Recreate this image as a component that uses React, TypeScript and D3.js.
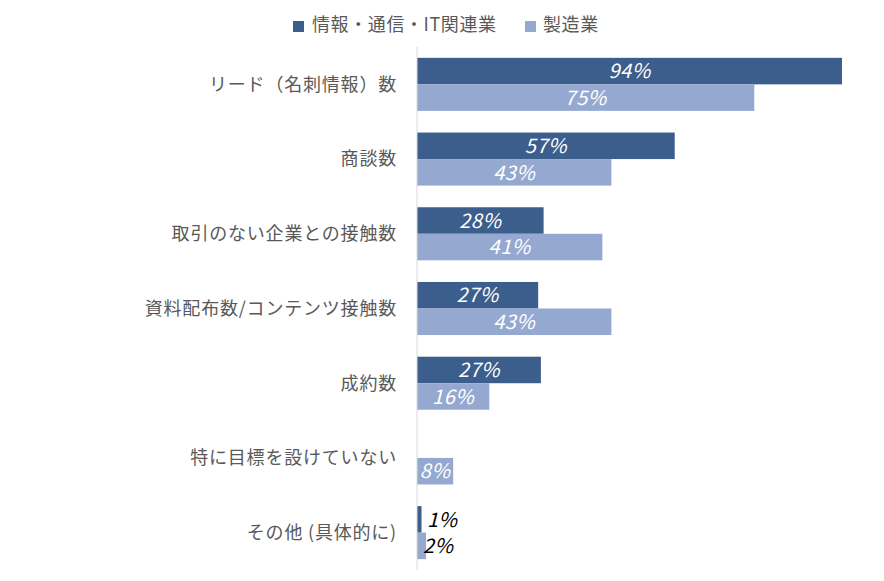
// Grouped horizontal bar chart with d3 scales.

import * as d3 from "d3";

const categories = [
  "リード（名刺情報）数",
  "商談数",
  "取引のない企業との接触数",
  "資料配布数/コンテンツ接触数",
  "成約数",
  "特に目標を設けていない",
  "その他 (具体的に)",
];
const seriesNames = ["情報・通信・IT関連業", "製造業"];
const itValues = [94, 57, 28, 26.8, 27.4, 0, 1];
const mfgValues = [74.6, 43, 41, 43, 16, 8, 2];
const colors = ["#3b5e8c", "#95a9d0"];

const font = "'Noto Sans CJK JP', 'Noto Sans', sans-serif";

export default function App() {
  const width = 884;
  const height = 581;
  const x0 = 417;
  const top = 47;
  const bottom = 570;

  const scaleX = d3.scaleLinear([0, 94], [x0, 842]);
  const scaleY = d3
    .scaleBand(categories, [top, bottom])
    .paddingInner(0.29)
    .paddingOuter(0.145);
  const sub = d3
    .scaleBand([0, 1], [0, scaleY.bandwidth()])
    .padding(0);

  const series = [itValues, mfgValues];

  return (
    <svg
      width={width}
      height={height}
      style={{ position: "absolute", left: 0, top: 0, background: "#fff" }}
      fontFamily={font}
    >
      {/* legend */}
      <g fontSize="18" fill="#595959" letterSpacing="0.6">
        <rect x={293} y={21} width={11} height={11} fill={colors[0]} />
        <text x={312} y={31}>{seriesNames[0]}</text>
        <rect x={525} y={21} width={11} height={11} fill={colors[1]} />
        <text x={543} y={31}>{seriesNames[1]}</text>
      </g>

      {categories.map((c, i) => (
        <text
          key={c}
          x={397}
          y={(scaleY(c) || 0) + scaleY.bandwidth() / 2}
          dy="0.35em"
          textAnchor="end"
          fontSize="18"
          letterSpacing="0.8"
          fill="#595959"
        >
          {c}
        </text>
      ))}

      {series.map((vals, s) =>
        vals.map((v, i) => {
          if (!v) return null;
          const y = (scaleY(categories[i]) || 0) + (sub(s) || 0);
          const h = sub.bandwidth();
          const w = scaleX(v) - x0;
          const small = v < 5;
          return (
            <g key={`${s}-${i}`}>
              <rect x={x0} y={y} width={w} height={h} fill={colors[s]} />
              <text
                x={small ? x0 + 10 + (s === 1 ? -4 : 0) : x0 + w / 2}
                y={y + h / 2}
                dy="0.36em"
                textAnchor={small ? "start" : "middle"}
                fontSize="20"
                fontStyle="italic"
                letterSpacing="0.5"
                fill={small ? "#000" : "#fff"}
              >
                {Math.round(v)}%
              </text>
            </g>
          );
        }),
      )}

      <line x1={x0} x2={x0} y1={top} y2={bottom} stroke="#d9d9d9" />
    </svg>
  );
}
